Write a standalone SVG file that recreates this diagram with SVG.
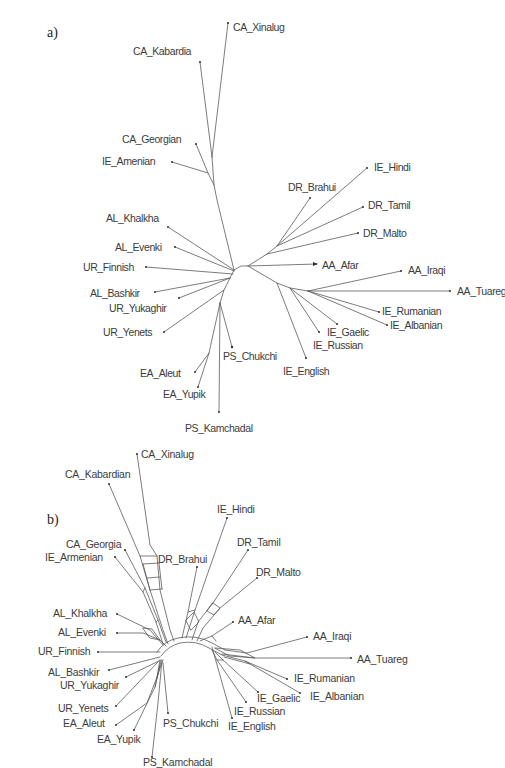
<svg xmlns="http://www.w3.org/2000/svg" width="505" height="768" viewBox="0 0 505 768">
<style>
.br{fill:none;stroke:#5a5a5a;stroke-width:0.8;stroke-linejoin:round;stroke-linecap:round}
.lb{font-family:"Liberation Sans",Arial,sans-serif;font-size:10.5px;fill:#3c3c3c;letter-spacing:-0.4px}
.lb2{font-family:"Liberation Sans",Arial,sans-serif;font-size:10.5px;fill:#3c3c3c;letter-spacing:-0.25px}
.pn{font-family:"Liberation Serif","Times New Roman",serif;font-size:14px;fill:#222}
.tip{fill:#333}
</style>
<rect width="505" height="768" fill="#fff"/>
<text class="pn" x="47" y="37">a)</text>
<text class="pn" x="47" y="524">b)</text>

<g id="branches-a" class="br">
<path d="M228,23 L212,157 M200,62 L212,157 M212,157 L214,185 L217,200 L234,270"/>
<path d="M196,144 L208,173 L214,185 M172,162 L208,173"/>
<path d="M168,227 L234,270 M175,247 L234,271 M146,267 L233,274"/>
<path d="M234,270 L230,278 L224,290 L220,303 M155,292 L230,278 M179,298 L230,278 M164,332 L224,290"/>
<path d="M220,303 L232,347 M220,303 L219,412 M220,303 L209,353 L195,372 M209,353 L198,387"/>
<path d="M234,270 L241,266 L248,266 L267,254 L358,233 M267,254 L277,246 L310,198 M277,246 L367,168 M277,246 L363,207"/>
<path d="M248,266 L317,264"/>
<path d="M248,266 L277,283 L290,288 L308,291 M277,283 L306,358 M290,288 L319,332 M290,288 L337,324 M308,291 L401,271 M308,291 L450,291 M308,291 L379,312 M308,291 L387,325"/>
</g>

<g id="branches-b" class="br">
<path d="M157,652 Q164,641 178,638 Q196,634 212,643 L225,650"/>
<path d="M161,656 Q168,646 180,643 Q196,640 209,648 L222,655"/>
<path d="M109,484 L140,556 L150,590 L163,630 L168,644"/>
<path d="M137,454 L150,545 L157,556 L160,590 L170,630 L174,641"/>
<path d="M140,556 L157,556 M143,564 L159,563 M147,578 L160,577 M150,590 L162,589 M143,564 L150,590 M159,563 L162,589"/>
<path d="M125,550 L145,588 L158,620 L166,642 M115,557 L143,592 L156,622 L163,644 M145,588 L143,592 M158,620 L156,622"/>
<path d="M227,518 L195,610 L186,638 M197,567 L188,612 L182,638 M248,550 L213,603 L198,622 L192,640 M257,578 L220,608 L203,628 L197,641"/>
<path d="M186,620 L194,612 L199,622 L191,630 Z M213,603 L220,608 L214,615 L207,611 Z M195,610 L188,612"/>
<path d="M233,622 L212,636 L200,641 M212,636 L216,641"/>
<path d="M307,637 L247,653 L225,650 M351,658 L255,658 L222,654 M215,648 L240,650 L255,658 L230,656 Z"/>
<path d="M287,679 L245,661 L222,655 M300,693 L250,664 L224,657 M245,661 L250,664"/>
<path d="M258,692 L223,660 L215,652 M246,702 L217,660 L212,650 M232,718 L212,647 M223,660 L217,660"/>
<path d="M117,614 L150,630 L163,645 M117,633 L143,633 L160,640 L166,646 M143,628 L152,629 L160,640 L150,638 Z M98,652 L160,652"/>
<path d="M109,670 L160,657 M126,677 L161,660 M116,706 L158,662"/>
<path d="M116,725 L147,703 L157,677 L160,660 M134,730 L155,687 L161,661 M157,677 L163,660 M155,687 L160,665"/>
<path d="M168,713 L163,663 M152,757 L158,703 L162,660"/>
</g>

<g id="a_CA_Xinalug"><circle class="tip" cx="228" cy="23" r="1"/><text class="lb" x="233" y="31">CA_Xinalug</text></g>
<g id="a_CA_Kabardia"><circle class="tip" cx="200" cy="62" r="1"/><text class="lb" x="133" y="55">CA_Kabardia</text></g>
<g id="a_CA_Georgian"><circle class="tip" cx="196" cy="144" r="1"/><text class="lb" x="122" y="143">CA_Georgian</text></g>
<g id="a_IE_Amenian"><circle class="tip" cx="172" cy="162" r="1"/><text class="lb" x="102" y="165">IE_Amenian</text></g>
<g id="a_IE_Hindi"><circle class="tip" cx="367" cy="168" r="1"/><text class="lb" x="374" y="171">IE_Hindi</text></g>
<g id="a_DR_Brahui"><circle class="tip" cx="310" cy="198" r="1"/><text class="lb" x="288" y="191">DR_Brahui</text></g>
<g id="a_DR_Tamil"><circle class="tip" cx="363" cy="207" r="1"/><text class="lb" x="368" y="209">DR_Tamil</text></g>
<g id="a_DR_Malto"><circle class="tip" cx="358" cy="233" r="1"/><text class="lb" x="363" y="237">DR_Malto</text></g>
<g id="a_AL_Khalkha"><circle class="tip" cx="168" cy="227" r="1"/><text class="lb" x="106" y="222">AL_Khalkha</text></g>
<g id="a_AL_Evenki"><circle class="tip" cx="175" cy="247" r="1"/><text class="lb" x="115" y="251">AL_Evenki</text></g>
<g id="a_UR_Finnish"><circle class="tip" cx="146" cy="267" r="1"/><text class="lb" x="83" y="271">UR_Finnish</text></g>
<g id="a_AA_Afar"><path class="tip" d="M318,264 L313,262 L313,266 Z"/><text class="lb" x="322" y="269">AA_Afar</text></g>
<g id="a_AA_Iraqi"><circle class="tip" cx="401" cy="271" r="1"/><text class="lb" x="408" y="274">AA_Iraqi</text></g>
<g id="a_AA_Tuareg"><circle class="tip" cx="450" cy="291" r="1"/><text class="lb" x="457" y="295">AA_Tuareg</text></g>
<g id="a_AL_Bashkir"><circle class="tip" cx="155" cy="292" r="1"/><text class="lb" x="90" y="297">AL_Bashkir</text></g>
<g id="a_UR_Yukaghir"><circle class="tip" cx="179" cy="298" r="1"/><text class="lb" x="109" y="312">UR_Yukaghir</text></g>
<g id="a_IE_Rumanian"><circle class="tip" cx="379" cy="312" r="1"/><text class="lb" x="382" y="315">IE_Rumanian</text></g>
<g id="a_IE_Albanian"><circle class="tip" cx="387" cy="325" r="1"/><text class="lb" x="390" y="329">IE_Albanian</text></g>
<g id="a_UR_Yenets"><circle class="tip" cx="164" cy="332" r="1"/><text class="lb" x="103" y="336">UR_Yenets</text></g>
<g id="a_IE_Gaelic"><circle class="tip" cx="337" cy="324" r="1"/><text class="lb" x="327" y="336">IE_Gaelic</text></g>
<g id="a_IE_Russian"><circle class="tip" cx="319" cy="332" r="1"/><text class="lb" x="313" y="349">IE_Russian</text></g>
<g id="a_PS_Chukchi"><circle class="tip" cx="232" cy="347" r="1.2"/><text class="lb" x="223" y="360">PS_Chukchi</text></g>
<g id="a_IE_English"><circle class="tip" cx="306" cy="358" r="1"/><text class="lb" x="283" y="375">IE_English</text></g>
<g id="a_EA_Aleut"><circle class="tip" cx="195" cy="372" r="1"/><text class="lb" x="140" y="377">EA_Aleut</text></g>
<g id="a_EA_Yupik"><circle class="tip" cx="198" cy="387" r="1"/><text class="lb" x="163" y="398">EA_Yupik</text></g>
<g id="a_PS_Kamchadal"><circle class="tip" cx="219" cy="412" r="1"/><text class="lb" x="185" y="432">PS_Kamchadal</text></g>

<g id="b_CA_Xinalug"><circle class="tip" cx="137" cy="454" r="1"/><text class="lb2" x="141" y="458">CA_Xinalug</text></g>
<g id="b_CA_Kabardian"><circle class="tip" cx="109" cy="484" r="1"/><text class="lb2" x="65" y="478">CA_Kabardian</text></g>
<g id="b_IE_Hindi"><circle class="tip" cx="227" cy="518" r="1"/><text class="lb2" x="217" y="513">IE_Hindi</text></g>
<g id="b_CA_Georgia"><circle class="tip" cx="125" cy="550" r="1"/><text class="lb2" x="66" y="548">CA_Georgia</text></g>
<g id="b_DR_Tamil"><circle class="tip" cx="248" cy="550" r="1"/><text class="lb2" x="237" y="546">DR_Tamil</text></g>
<g id="b_IE_Armenian"><circle class="tip" cx="115" cy="557" r="1"/><text class="lb2" x="45" y="561">IE_Armenian</text></g>
<g id="b_DR_Brahui"><circle class="tip" cx="197" cy="567" r="1"/><text class="lb2" x="158" y="563">DR_Brahui</text></g>
<g id="b_DR_Malto"><circle class="tip" cx="257" cy="578" r="1"/><text class="lb2" x="256" y="576">DR_Malto</text></g>
<g id="b_AL_Khalkha"><circle class="tip" cx="117" cy="614" r="1"/><text class="lb2" x="53" y="617">AL_Khalkha</text></g>
<g id="b_AA_Afar"><circle class="tip" cx="233" cy="622" r="1"/><text class="lb2" x="238" y="624">AA_Afar</text></g>
<g id="b_AL_Evenki"><circle class="tip" cx="117" cy="633" r="1"/><text class="lb2" x="58" y="636">AL_Evenki</text></g>
<g id="b_AA_Iraqi"><circle class="tip" cx="307" cy="637" r="1"/><text class="lb2" x="313" y="640">AA_Iraqi</text></g>
<g id="b_UR_Finnish"><circle class="tip" cx="98" cy="652" r="1"/><text class="lb2" x="38" y="655">UR_Finnish</text></g>
<g id="b_AA_Tuareg"><circle class="tip" cx="351" cy="658" r="1"/><text class="lb2" x="357" y="663">AA_Tuareg</text></g>
<g id="b_AL_Bashkir"><circle class="tip" cx="109" cy="670" r="1"/><text class="lb2" x="48" y="676">AL_Bashkir</text></g>
<g id="b_IE_Rumanian"><circle class="tip" cx="287" cy="679" r="1"/><text class="lb2" x="294" y="682">IE_Rumanian</text></g>
<g id="b_UR_Yukaghir"><circle class="tip" cx="126" cy="677" r="1"/><text class="lb2" x="60" y="689">UR_Yukaghir</text></g>
<g id="b_IE_Albanian"><circle class="tip" cx="300" cy="693" r="1"/><text class="lb2" x="310" y="700">IE_Albanian</text></g>
<g id="b_IE_Gaelic"><circle class="tip" cx="258" cy="692" r="1"/><text class="lb2" x="257" y="702">IE_Gaelic</text></g>
<g id="b_UR_Yenets"><circle class="tip" cx="116" cy="706" r="1"/><text class="lb2" x="58" y="712">UR_Yenets</text></g>
<g id="b_IE_Russian"><circle class="tip" cx="246" cy="702" r="1"/><text class="lb2" x="234" y="715">IE_Russian</text></g>
<g id="b_EA_Aleut"><circle class="tip" cx="116" cy="725" r="1"/><text class="lb2" x="63" y="727">EA_Aleut</text></g>
<g id="b_PS_Chukchi"><circle class="tip" cx="168" cy="713" r="1"/><text class="lb2" x="163" y="727">PS_Chukchi</text></g>
<g id="b_IE_English"><circle class="tip" cx="232" cy="718" r="1"/><text class="lb2" x="228" y="730">IE_English</text></g>
<g id="b_EA_Yupik"><circle class="tip" cx="134" cy="730" r="1"/><text class="lb2" x="97" y="743">EA_Yupik</text></g>
<g id="b_PS_Kamchadal"><circle class="tip" cx="152" cy="757" r="1"/><text class="lb2" x="143" y="766">PS_Kamchadal</text></g>
</svg>
